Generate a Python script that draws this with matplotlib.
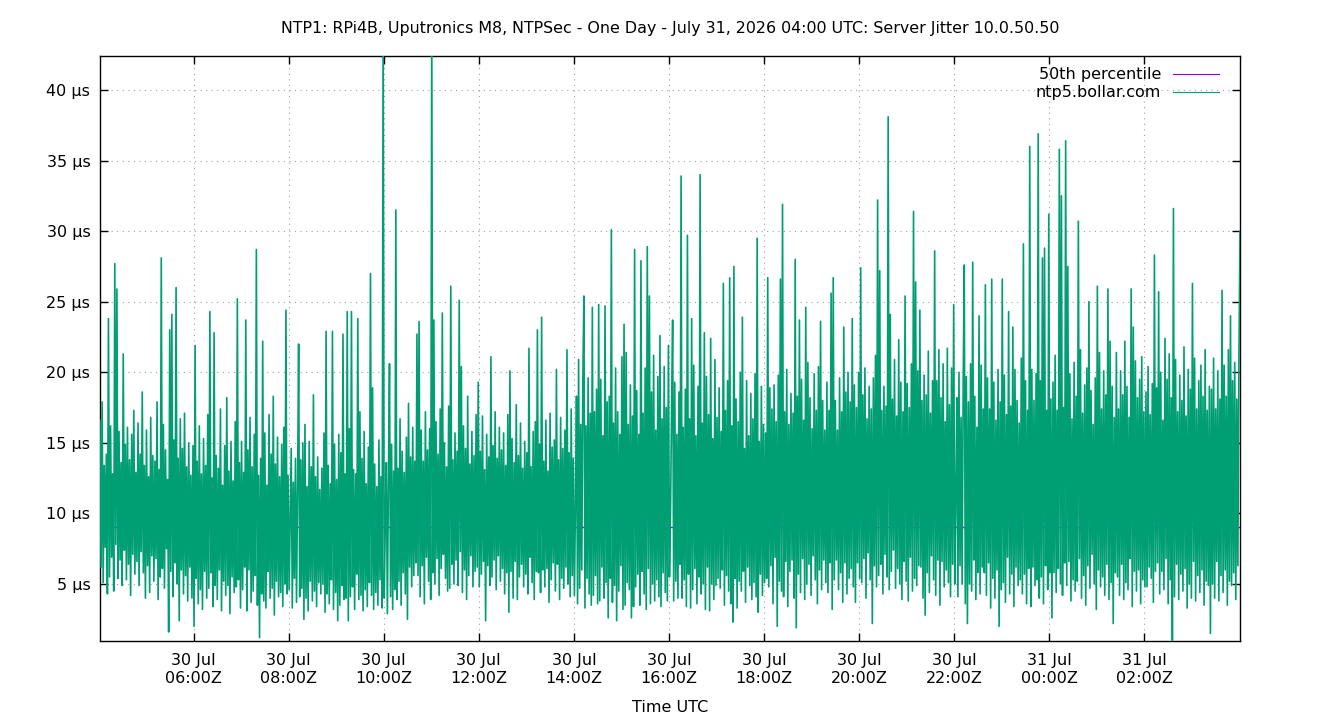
import datetime as dt
import matplotlib
matplotlib.use("Agg")
import matplotlib.pyplot as plt
import matplotlib.dates as mdates
import numpy as np

TITLE = "NTP1: RPi4B, Uputronics M8, NTPSec - One Day - July 31, 2026 04:00 UTC: Server Jitter 10.0.50.50"
SERIES_NAME = "ntp5.bollar.com"
P50_NAME = "50th percentile"
P50_VALUE = 9.07  # µs

START = dt.datetime(2026, 7, 30, 4, 2, 0)
STEP_SEC = 80

# server jitter in µs, one value every 80 s, in twelve ~2-hour slices
seg_0402 = [16.6, 6.2, 17.9, 5.1, 13.4, 7.6, 14.2, 4.3, 23.8, 5.5,
            16.2, 6.9, 12.8, 4.5, 27.7, 7.8, 25.9, 5.4, 15.8, 6.7,
            13.6, 4.9, 21.3, 7.4, 14.9, 5.3, 16.1, 6.4, 13.8, 4.2,
            15.6, 7.1, 17.3, 5.7, 12.9, 6.6, 16.4, 4.9, 14.2, 7.3,
            18.6, 5.8, 13.4, 4.0, 15.9, 6.3, 12.6, 4.4, 16.8, 7.0,
            14.1, 5.2, 13.7, 6.8, 17.9, 3.9, 13.1, 5.5, 28.1, 6.1,
            16.3, 4.7, 14.5, 7.5, 12.4, 1.6, 23.0, 5.9, 24.1, 4.1,
            15.2, 6.5, 26.0, 5.0, 13.9, 2.4, 16.7, 6.0, 14.6, 4.3,
            17.1, 5.6, 13.3, 3.8, 15.0, 6.2, 12.7, 4.0, 14.8, 2.0]
seg_0602 = [21.9, 5.4, 13.7, 3.6, 16.2, 4.6, 12.8, 3.2, 15.3, 5.9,
            13.4, 4.0, 17.0, 4.7, 24.3, 5.8, 12.5, 3.4, 22.8, 4.9,
            14.1, 3.9, 13.2, 6.0, 17.4, 3.1, 12.0, 5.2, 14.8, 4.2,
            18.2, 4.9, 13.0, 2.9, 15.1, 5.5, 12.3, 4.4, 16.5, 4.8,
            25.2, 5.3, 13.6, 3.3, 15.1, 4.6, 12.9, 6.2, 23.7, 3.1,
            14.5, 6.0, 16.8, 3.7, 13.3, 4.5, 15.6, 5.6, 28.7, 3.5,
            12.7, 1.2, 13.9, 4.3, 22.2, 3.8, 15.7, 3.3, 12.0, 5.9,
            17.0, 4.0, 14.2, 4.7, 18.3, 2.8, 13.5, 5.2, 15.4, 4.1,
            12.6, 4.4, 14.9, 3.4, 16.1, 5.0, 24.4, 4.3, 12.7, 4.6]
seg_0802 = [9.8, 14.6, 3.3, 12.2, 5.4, 13.9, 3.7, 11.8, 22.0, 4.1,
            13.8, 4.7, 15.0, 2.5, 16.3, 4.0, 11.9, 3.1, 15.1, 5.2,
            13.3, 3.8, 18.4, 4.5, 12.6, 3.4, 14.0, 5.1, 11.7, 4.3,
            13.2, 5.0, 15.7, 3.0, 22.9, 4.3, 13.4, 3.6, 12.1, 5.3,
            22.9, 3.2, 14.9, 4.4, 12.4, 2.4, 15.6, 3.5, 14.3, 4.9,
            22.7, 3.9, 12.8, 4.0, 24.3, 2.4, 16.0, 4.1, 24.3, 4.8,
            13.1, 3.2, 12.8, 5.7, 23.8, 3.9, 17.2, 4.2, 13.9, 3.1,
            15.8, 4.6, 12.1, 3.4, 14.7, 5.1, 27.0, 4.2, 18.9, 3.2,
            13.5, 4.4, 11.9, 3.5, 15.2, 5.3, 12.6, 3.3, 45.0, 4.0]
seg_1002 = [9.2, 13.6, 2.9, 12.5, 20.6, 4.1, 14.9, 3.2, 13.0, 4.6,
            31.5, 3.9, 13.2, 5.2, 16.7, 3.5, 14.4, 5.8, 12.9, 4.3,
            15.4, 2.5, 17.8, 6.2, 14.0, 4.8, 16.1, 5.6, 13.7, 6.5,
            22.7, 5.6, 23.6, 4.1, 15.9, 6.3, 13.7, 3.6, 17.2, 6.9,
            14.5, 5.2, 16.0, 3.9, 45.0, 5.8, 23.7, 5.0, 16.5, 6.8,
            14.2, 4.2, 17.4, 6.1, 24.2, 7.1, 15.0, 5.4, 13.3, 4.5,
            17.6, 4.7, 26.1, 6.4, 13.8, 5.0, 15.7, 6.7, 14.4, 4.9,
            25.1, 7.3, 20.4, 4.4, 16.2, 6.0, 14.6, 3.9, 18.3, 5.6,
            13.5, 7.0, 15.8, 4.8, 14.1, 5.9, 17.0, 6.2, 19.3, 4.8]
seg_1202 = [14.4, 5.7, 16.9, 6.6, 13.1, 2.4, 15.6, 6.3, 14.0, 4.9,
            21.1, 5.5, 14.8, 6.7, 17.2, 4.6, 13.9, 7.0, 16.1, 5.2,
            14.5, 6.1, 15.7, 4.3, 13.4, 5.8, 17.0, 3.0, 20.1, 5.9,
            15.3, 4.0, 13.6, 6.6, 17.7, 3.9, 14.1, 5.5, 16.4, 6.4,
            13.2, 4.8, 15.1, 5.7, 14.3, 4.3, 21.7, 6.9, 13.3, 5.1,
            15.8, 3.9, 16.5, 5.9, 23.0, 5.8, 14.9, 4.4, 23.9, 6.0,
            13.7, 4.8, 16.6, 6.1, 13.0, 3.7, 17.1, 5.3, 14.7, 6.5,
            15.2, 4.5, 20.2, 6.4, 13.8, 3.9, 16.8, 5.4, 14.6, 4.7,
            15.9, 6.2, 21.6, 5.0, 14.3, 4.1, 17.4, 5.6, 13.9, 4.2]
seg_1402 = [10.5, 18.3, 3.6, 20.9, 4.7, 16.3, 6.0, 19.4, 25.4, 3.3,
            16.2, 5.4, 19.6, 4.3, 17.1, 3.5, 24.6, 4.2, 17.2, 5.6,
            18.8, 3.6, 24.8, 3.8, 19.5, 6.2, 15.5, 4.0, 24.7, 5.1,
            17.9, 2.6, 18.3, 5.4, 30.1, 3.7, 16.4, 4.9, 20.3, 2.4,
            17.2, 4.5, 15.6, 6.3, 21.1, 3.2, 23.4, 3.5, 21.4, 5.1,
            16.3, 4.6, 19.1, 2.6, 16.9, 3.4, 28.7, 4.8, 18.7, 5.7,
            15.6, 3.5, 27.9, 5.9, 17.1, 4.3, 20.3, 3.2, 28.9, 6.1,
            25.4, 3.6, 18.6, 5.0, 21.2, 3.8, 15.9, 5.3, 19.7, 4.1,
            22.6, 3.4, 16.7, 5.8, 20.4, 4.4, 17.5, 3.8, 21.9, 5.5]
seg_1602 = [10.2, 17.4, 23.7, 3.8, 19.3, 5.2, 15.6, 4.0, 18.6, 6.4,
            33.9, 4.0, 16.1, 5.3, 18.8, 3.4, 29.7, 5.7, 16.7, 3.3,
            23.8, 4.6, 20.5, 6.1, 15.5, 3.6, 19.0, 5.5, 34.0, 4.3,
            16.4, 5.0, 22.8, 3.2, 19.7, 6.2, 17.0, 3.1, 22.4, 5.0,
            15.3, 3.9, 20.9, 4.9, 16.8, 5.4, 18.9, 4.7, 15.8, 6.0,
            26.3, 3.5, 17.3, 5.6, 19.4, 4.5, 26.7, 3.6, 16.2, 2.3,
            27.5, 5.4, 18.1, 3.3, 16.5, 5.2, 20.0, 4.5, 23.9, 5.9,
            14.6, 3.7, 19.4, 6.2, 15.5, 4.9, 18.5, 3.9, 16.7, 5.1,
            19.9, 4.1, 29.5, 3.0, 15.1, 5.7, 19.0, 4.2, 16.3, 5.1]
seg_1802 = [15.7, 5.4, 26.7, 4.8, 18.9, 6.3, 17.4, 3.6, 19.1, 6.9,
            16.5, 2.0, 19.8, 5.2, 26.6, 4.5, 31.9, 4.1, 17.2, 6.6,
            20.2, 3.4, 16.3, 5.9, 18.5, 6.7, 17.1, 4.0, 28.0, 1.9,
            18.3, 5.7, 23.7, 4.4, 19.5, 6.8, 16.6, 3.9, 24.6, 5.0,
            20.7, 6.4, 18.2, 4.2, 16.0, 7.0, 19.9, 5.3, 17.3, 3.6,
            20.4, 6.0, 23.6, 4.6, 18.0, 6.7, 15.9, 5.1, 19.3, 4.4,
            17.3, 6.5, 25.6, 3.2, 26.7, 5.3, 18.0, 6.7, 15.9, 4.6,
            19.6, 5.8, 17.2, 3.7, 23.2, 6.5, 18.6, 4.3, 20.0, 5.4,
            17.9, 6.1, 23.8, 4.8, 19.1, 3.7, 17.5, 6.5, 20.0, 5.4]
seg_2002 = [27.4, 5.1, 18.4, 6.8, 20.3, 4.0, 16.7, 7.2, 19.0, 5.3,
            17.4, 2.2, 19.6, 6.3, 21.2, 4.8, 32.2, 5.6, 27.2, 6.4,
            17.3, 4.3, 19.0, 7.1, 17.6, 5.5, 38.1, 4.6, 24.1, 5.9,
            18.1, 7.4, 20.9, 4.7, 16.9, 6.1, 22.3, 5.0, 19.3, 3.9,
            17.2, 6.6, 25.4, 5.2, 19.2, 3.8, 17.5, 6.9, 20.6, 4.5,
            31.4, 5.4, 26.4, 4.9, 20.1, 6.3, 24.4, 6.2, 18.0, 4.0,
            19.8, 2.8, 18.4, 5.8, 21.5, 4.4, 17.1, 7.0, 19.4, 5.3,
            28.6, 4.2, 19.4, 6.7, 21.6, 3.5, 18.2, 6.6, 20.6, 4.8,
            16.5, 6.0, 21.7, 5.1, 17.7, 4.1, 20.3, 6.4, 24.8, 5.0]
seg_2202 = [11.0, 18.2, 4.1, 20.0, 6.3, 16.8, 5.0, 19.1, 27.6, 3.6,
            19.7, 2.2, 17.9, 5.0, 20.6, 4.5, 27.8, 6.7, 18.3, 3.9,
            16.1, 5.8, 24.0, 4.3, 20.5, 6.2, 17.4, 5.8, 26.2, 4.2,
            19.6, 6.5, 17.4, 3.3, 26.6, 5.4, 19.3, 4.0, 16.6, 6.0,
            20.2, 2.0, 17.9, 4.6, 26.6, 5.1, 19.8, 3.7, 17.0, 6.9,
            24.3, 4.3, 17.6, 5.7, 23.2, 3.4, 20.2, 6.2, 18.0, 4.9,
            16.4, 5.3, 21.0, 4.3, 29.1, 5.7, 19.4, 3.6, 17.3, 6.1,
            36.0, 3.4, 20.2, 6.2, 18.0, 4.9, 19.9, 5.3, 36.9, 4.0,
            19.4, 5.5, 28.1, 3.6, 28.8, 6.3, 17.3, 4.6, 31.2, 5.8]
seg_0002 = [18.1, 2.6, 19.3, 5.8, 21.2, 4.4, 17.3, 6.1, 35.8, 5.0,
            32.5, 4.2, 17.5, 6.5, 36.4, 4.9, 27.5, 6.6, 19.9, 3.8,
            16.7, 5.3, 20.7, 4.5, 18.3, 5.2, 30.7, 6.8, 21.6, 4.0,
            17.1, 5.6, 19.1, 3.5, 20.3, 6.3, 25.0, 4.7, 18.7, 7.1,
            16.3, 5.0, 19.6, 3.2, 26.1, 6.0, 21.4, 4.8, 17.4, 5.5,
            20.1, 4.2, 18.4, 6.4, 25.9, 3.9, 22.2, 5.1, 19.0, 2.2,
            16.8, 5.8, 21.4, 5.5, 17.4, 4.2, 20.1, 6.4, 18.4, 3.9,
            22.2, 5.1, 19.0, 4.6, 16.8, 6.8, 25.9, 3.4, 23.2, 5.9,
            20.8, 4.5, 18.2, 6.0, 19.5, 3.6, 21.1, 5.3, 17.2, 4.8]
seg_0202 = [18.6, 4.8, 20.4, 6.2, 17.0, 5.4, 19.2, 3.7, 28.3, 5.9,
            18.9, 6.5, 25.7, 4.3, 20.0, 5.9, 16.6, 4.6, 22.4, 6.8,
            19.5, 3.6, 21.3, 5.3, 18.2, 1.0, 31.6, 4.1, 20.9, 6.4,
            17.2, 3.9, 19.8, 5.7, 18.0, 4.5, 21.8, 6.1, 16.9, 3.3,
            20.2, 5.0, 18.8, 4.0, 26.3, 6.6, 21.0, 3.8, 17.4, 5.6,
            19.4, 4.4, 20.5, 6.0, 18.3, 3.5, 21.6, 5.2, 17.3, 4.9,
            19.0, 1.5, 18.8, 5.0, 21.0, 4.0, 17.4, 6.6, 20.1, 3.8,
            18.1, 5.6, 25.8, 4.4, 20.5, 6.0, 18.3, 3.5, 21.6, 5.2,
            24.0, 4.9, 19.4, 5.8, 20.7, 3.9, 18.1, 6.3, 21.0, 30.0]

jitter = np.array(seg_0402 + seg_0602 + seg_0802 + seg_1002 + seg_1202 + seg_1402 +
                  seg_1602 + seg_1802 + seg_2002 + seg_2202 + seg_0002 + seg_0202)
times = [START + dt.timedelta(seconds=STEP_SEC * i) for i in range(len(jitter))]

tick_times = [dt.datetime(2026, 7, 30, h) for h in range(6, 24, 2)] + \
             [dt.datetime(2026, 7, 31, h) for h in (0, 2)]
y_ticks = [5, 10, 15, 20, 25, 30, 35, 40]

plt.rcParams['font.family'] = ['DejaVu Sans']
FS = 11.5

fig = plt.figure(figsize=(13.4, 7.2), dpi=100)
ax = fig.add_axes([100 / 1340, 79 / 720, 1140 / 1340, 585 / 720])

ax.plot([times[0], times[-1]], [P50_VALUE, P50_VALUE], color='#9400d3', lw=1.0,
        label=P50_NAME, zorder=2)
ax.plot(times, jitter, color='#009e73', lw=1.2, label=SERIES_NAME, zorder=3)

ax.set_xlim(times[0], times[-1])
ax.set_ylim(0.96, 42.41)

ax.set_yticks(y_ticks)
ax.set_yticklabels([f"{v} µs" for v in y_ticks], fontsize=FS)
ax.set_xticks(tick_times)
ax.xaxis.set_major_formatter(mdates.DateFormatter("%d %b\n%H:%MZ"))

ax.tick_params(direction='in', length=6, width=1.0, top=True, right=True,
               labelsize=FS, pad=7, colors='black')
ax.tick_params(axis='x', pad=9)
for sp in ax.spines.values():
    sp.set_linewidth(1.0)
ax.grid(True, linestyle=(0, (1, 4)), color='#a0a0a0', linewidth=0.8)
ax.set_axisbelow(True)

ax.set_xlabel("Time UTC", fontsize=FS, labelpad=10)
fig.text(670 / 1340, 1 - 28 / 720, TITLE, ha='center', va='center', fontsize=11.45)

leg = ax.legend(loc='upper right', bbox_to_anchor=(1 - 10 / 1140, 1.0), frameon=False,
                fontsize=FS, markerfirst=False, handlelength=2.9, handletextpad=0.7,
                borderaxespad=0.4, labelspacing=0.2, borderpad=0.3)
for h in leg.legend_handles:
    h.set_linewidth(0.8)

fig.savefig("out.png", dpi=100)
